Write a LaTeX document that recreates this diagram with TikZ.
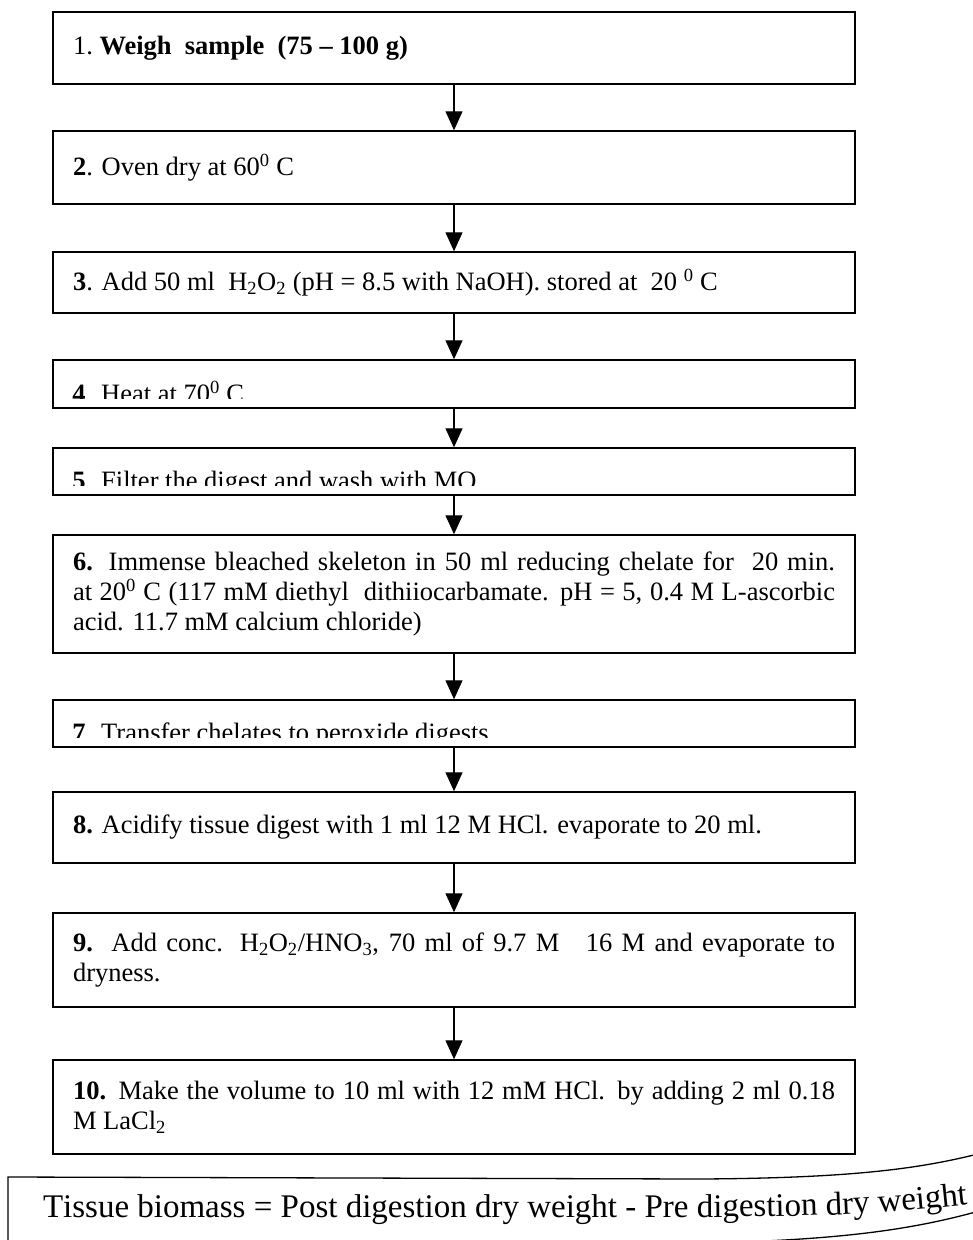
\documentclass[tikz,border=0pt]{standalone}
\usepackage{fontspec}
\setmainfont{Liberation Serif}
\usetikzlibrary{arrows.meta,decorations.text}

\newcommand\tissuefont{\fontsize{33}{38}\selectfont}

\begin{document}
\begin{tikzpicture}[x=1pt, y=-1pt,
    stepbox/.style={draw, line width=1.5pt, minimum width=802pt, text width=762pt,
        inner xsep=20pt, inner ysep=0pt, align=justify, font=\fontsize{26.5}{30}\selectfont},
    steptext/.style={inner sep=0pt, font=\fontsize{26.5}{30}\selectfont},
    flowarrow/.style={-{Triangle[length=19pt,width=17pt]}, line width=1.3pt}]
    \useasboundingbox (0,0) rectangle (973,1240);

    \node[stepbox, minimum height=72pt] (s1) at (454,48)
        {1.\ \textbf{Weigh\ \ sample\ \ (75 – 100 g)}};
    \node[stepbox, minimum height=73pt] (s2) at (454,167.5)
        {\textbf{2}. Oven dry at 60\textsuperscript{0} C};
    \node[stepbox, minimum height=61pt] (s3) at (454,282.5)
        {\textbf{3}. Add 50 ml\ \ H\textsubscript{2}O\textsubscript{2} (pH = 8.5 with NaOH). stored at\ \ 20 \textsuperscript{0} C};
    \node[stepbox, minimum height=48pt] (s4) at (454,384) {};
    \node[stepbox, minimum height=47pt] (s5) at (454,471.5) {};
    \node[stepbox, minimum height=118pt] (s6) at (454,594)
        {\textbf{6.} Immense bleached skeleton in 50 ml reducing chelate for\ \ 20 min.\linebreak
         at 20\textsuperscript{0} C (117 mM diethyl\ \ dithiiocarbamate. pH = 5, 0.4 M L-ascorbic\linebreak
         acid. 11.7 mM calcium chloride)};
    \node[stepbox, minimum height=47pt] (s7) at (454,723.5) {};
    \node[stepbox, minimum height=71pt] (s8) at (454,827.5)
        {\textbf{8.} Acidify tissue digest with 1 ml 12 M HCl. evaporate to 20 ml.};
    \node[stepbox, minimum height=94pt] (s9) at (454,960)
        {\textbf{9.}\ \ Add conc. H\textsubscript{2}O\textsubscript{2}/HNO\textsubscript{3}, 70 ml of 9.7 M\quad 16 M and evaporate to\linebreak
         dryness.};
    \node[stepbox, minimum height=94pt] (s10) at (454,1107)
        {\textbf{10.} Make the volume to 10 ml with 12 mM HCl. by adding 2 ml 0.18\linebreak
         M LaCl\textsubscript{2}};

    % text cut off at the lower edge of boxes 4, 5 and 7
    \begin{scope}
        \clip (s4.north west) rectangle ([yshift=10pt]s4.south east);
        \node[steptext, anchor=base west] (t4) at ([xshift=20pt,yshift=6pt]s4.south west)
            {\textbf{4}. Heat at 70\textsuperscript{0} C};
    \end{scope}
    \begin{scope}
        \clip (s5.north west) rectangle ([yshift=10pt]s5.south east);
        \node[steptext, anchor=base west] (t5) at ([xshift=20pt,yshift=6pt]s5.south west)
            {\textbf{5}. Filter the digest and wash with MQ};
    \end{scope}
    \begin{scope}
        \clip (s7.north west) rectangle ([yshift=10pt]s7.south east);
        \node[steptext, anchor=base west] (t7) at ([xshift=20pt,yshift=6pt]s7.south west)
            {\textbf{7}. Transfer chelates to peroxide digests};
    \end{scope}

    \draw[flowarrow] (s1) -- (s2);
    \draw[flowarrow] (s2) -- (s3);
    \draw[flowarrow] (s3) -- (s4);
    \draw[flowarrow] (s4) -- (s5);
    \draw[flowarrow] (s5) -- (s6);
    \draw[flowarrow] (s6) -- (s7);
    \draw[flowarrow] (s7) -- (s8);
    \draw[flowarrow] (s8) -- (s9);
    \draw[flowarrow] (s9) -- (s10);

    \draw[line width=1.3pt] (8,1177) -- (700,1179) .. controls (860,1178) and (930,1168) .. (1000,1148)
        -- (1000,1205) .. controls (930,1226) and (860,1240) .. (700,1243) -- (8,1243) -- cycle;
    \path[decorate, decoration={text along path, text align=left,
        text={|\tissuefont|Tissue biomass = Post digestion dry weight - Pre digestion dry weight}}]
        (43,1217) -- (700,1217) .. controls (830,1217) and (900,1213) .. (1000,1201);

\end{tikzpicture}
\end{document}
